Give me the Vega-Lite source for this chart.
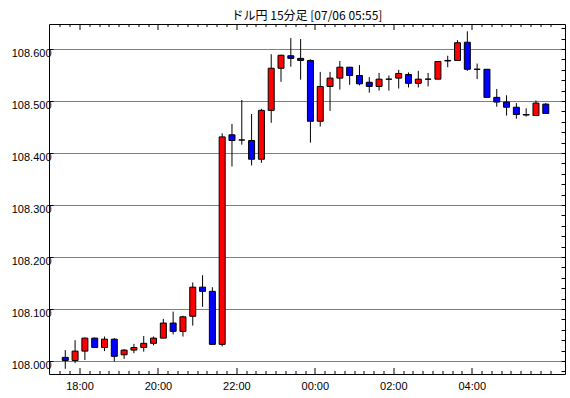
{
  "$schema": "https://vega.github.io/schema/vega-lite/v6.json",
  "width": 516,
  "height": 350,
  "autosize": {"type": "none"},
  "padding": {"left": 49, "top": 24, "right": 5, "bottom": 24},
  "background": "white",
  "title": {"text": "ドル円 15分足 [07/06 05:55]", "font": "Noto Sans CJK JP", "fontSize": 12, "fontWeight": "normal", "color": "black", "anchor": "middle", "baseline": "bottom", "offset": -11},
  "config": {
    "view": {"stroke": "black", "strokeWidth": 1},
    "axis": {"domain": false, "labelFont": "Liberation Sans", "labelFontSize": 11, "labelColor": "black", "tickColor": "black", "tickWidth": 1, "title": null, "grid": false}
  },
  "data": {"values": [
    {"hr": 17.625, "o": 108.007, "h": 108.021, "l": 107.985, "c": 108.001},
    {"hr": 17.875, "o": 108.001, "h": 108.040, "l": 107.996, "c": 108.019},
    {"hr": 18.125, "o": 108.019, "h": 108.045, "l": 108.002, "c": 108.044},
    {"hr": 18.375, "o": 108.044, "h": 108.045, "l": 108.026, "c": 108.026},
    {"hr": 18.625, "o": 108.026, "h": 108.047, "l": 108.019, "c": 108.042},
    {"hr": 18.875, "o": 108.042, "h": 108.044, "l": 107.999, "c": 108.009},
    {"hr": 19.125, "o": 108.012, "h": 108.023, "l": 108.004, "c": 108.021},
    {"hr": 19.375, "o": 108.021, "h": 108.033, "l": 108.015, "c": 108.026},
    {"hr": 19.625, "o": 108.026, "h": 108.048, "l": 108.018, "c": 108.034},
    {"hr": 19.875, "o": 108.034, "h": 108.047, "l": 108.030, "c": 108.044},
    {"hr": 20.125, "o": 108.044, "h": 108.081, "l": 108.044, "c": 108.073},
    {"hr": 20.375, "o": 108.073, "h": 108.095, "l": 108.051, "c": 108.057},
    {"hr": 20.625, "o": 108.057, "h": 108.087, "l": 108.047, "c": 108.085},
    {"hr": 20.875, "o": 108.086, "h": 108.151, "l": 108.068, "c": 108.142},
    {"hr": 21.125, "o": 108.142, "h": 108.165, "l": 108.104, "c": 108.134},
    {"hr": 21.375, "o": 108.134, "h": 108.142, "l": 108.032, "c": 108.032},
    {"hr": 21.625, "o": 108.032, "h": 108.438, "l": 108.028, "c": 108.431},
    {"hr": 21.875, "o": 108.435, "h": 108.456, "l": 108.374, "c": 108.424},
    {"hr": 22.125, "o": 108.425, "h": 108.502, "l": 108.416, "c": 108.425},
    {"hr": 22.375, "o": 108.424, "h": 108.475, "l": 108.376, "c": 108.388},
    {"hr": 22.625, "o": 108.388, "h": 108.485, "l": 108.381, "c": 108.482},
    {"hr": 22.875, "o": 108.482, "h": 108.590, "l": 108.458, "c": 108.563},
    {"hr": 23.125, "o": 108.563, "h": 108.589, "l": 108.537, "c": 108.588},
    {"hr": 23.375, "o": 108.587, "h": 108.621, "l": 108.566, "c": 108.582},
    {"hr": 23.625, "o": 108.582, "h": 108.619, "l": 108.541, "c": 108.578},
    {"hr": 23.875, "o": 108.578, "h": 108.580, "l": 108.420, "c": 108.461},
    {"hr": 24.125, "o": 108.461, "h": 108.556, "l": 108.451, "c": 108.528},
    {"hr": 24.375, "o": 108.528, "h": 108.556, "l": 108.481, "c": 108.544},
    {"hr": 24.625, "o": 108.544, "h": 108.577, "l": 108.522, "c": 108.565},
    {"hr": 24.875, "o": 108.565, "h": 108.565, "l": 108.531, "c": 108.549},
    {"hr": 25.125, "o": 108.549, "h": 108.569, "l": 108.530, "c": 108.533},
    {"hr": 25.375, "o": 108.536, "h": 108.546, "l": 108.516, "c": 108.528},
    {"hr": 25.625, "o": 108.528, "h": 108.554, "l": 108.520, "c": 108.542},
    {"hr": 25.875, "o": 108.542, "h": 108.549, "l": 108.520, "c": 108.542},
    {"hr": 26.125, "o": 108.544, "h": 108.560, "l": 108.524, "c": 108.553},
    {"hr": 26.375, "o": 108.551, "h": 108.555, "l": 108.526, "c": 108.534},
    {"hr": 26.625, "o": 108.534, "h": 108.558, "l": 108.526, "c": 108.542},
    {"hr": 26.875, "o": 108.542, "h": 108.554, "l": 108.528, "c": 108.542},
    {"hr": 27.125, "o": 108.542, "h": 108.576, "l": 108.542, "c": 108.576},
    {"hr": 27.375, "o": 108.578, "h": 108.587, "l": 108.565, "c": 108.577},
    {"hr": 27.625, "o": 108.578, "h": 108.617, "l": 108.578, "c": 108.612},
    {"hr": 27.875, "o": 108.613, "h": 108.634, "l": 108.558, "c": 108.561},
    {"hr": 28.125, "o": 108.561, "h": 108.572, "l": 108.542, "c": 108.561},
    {"hr": 28.375, "o": 108.561, "h": 108.561, "l": 108.507, "c": 108.507},
    {"hr": 28.625, "o": 108.507, "h": 108.523, "l": 108.489, "c": 108.498},
    {"hr": 28.875, "o": 108.498, "h": 108.511, "l": 108.472, "c": 108.488},
    {"hr": 29.125, "o": 108.488, "h": 108.496, "l": 108.466, "c": 108.474},
    {"hr": 29.375, "o": 108.474, "h": 108.486, "l": 108.470, "c": 108.473},
    {"hr": 29.625, "o": 108.472, "h": 108.501, "l": 108.472, "c": 108.496},
    {"hr": 29.875, "o": 108.494, "h": 108.496, "l": 108.476, "c": 108.476}
  ]},
  "layer": [
    {
      "mark": {"type": "rule", "color": "black", "strokeWidth": 1},
      "encoding": {
        "x": {"field": "hr", "type": "quantitative",
          "scale": {"domain": [17.3375, 30.2375], "zero": false, "nice": false},
          "axis": {"orient": "bottom", "translate": 0,
            "values": [17.5, 17.75, 18, 18.25, 18.5, 18.75, 19, 19.25, 19.5, 19.75, 20, 20.25, 20.5, 20.75, 21, 21.25, 21.5, 21.75, 22, 22.25, 22.5, 22.75, 23, 23.25, 23.5, 23.75, 24, 24.25, 24.5, 24.75, 25, 25.25, 25.5, 25.75, 26, 26.25, 26.5, 26.75, 27, 27.25, 27.5, 27.75, 28, 28.25, 28.5, 28.75, 29, 29.25, 29.5, 29.75, 30],
            "labelExpr": "datum.value % 2 == 0 && datum.value < 30 ? ((datum.value % 24) < 10 ? '0' : '') + (datum.value % 24) + ':00' : ''",
            "tickSize": {"condition": {"test": "datum.value % 2 == 0 && datum.value < 30", "value": -6}, "value": -3},
            "labelPadding": 13, "labelFlush": false, "labelOverlap": false}},
        "y": {"field": "l", "type": "quantitative",
          "scale": {"domain": [107.975, 108.648077], "zero": false, "nice": false},
          "axis": {"orient": "left", "values": [108.0, 108.1, 108.2, 108.3, 108.4, 108.5, 108.6], "format": ".3f", "grid": true, "gridDash": [1, 1], "gridColor": "black", "gridOpacity": 1, "tickSize": -4, "labelPadding": 2, "labelBaseline": "top", "labelOffset": -2}},
        "y2": {"field": "h"}
      }
    },
    {
      "mark": {"type": "bar", "size": 6, "stroke": "black", "strokeWidth": 1},
      "encoding": {
        "x": {"field": "hr", "type": "quantitative",
          "axis": {"orient": "top", "translate": 0,
            "values": [17.5, 17.75, 18, 18.25, 18.5, 18.75, 19, 19.25, 19.5, 19.75, 20, 20.25, 20.5, 20.75, 21, 21.25, 21.5, 21.75, 22, 22.25, 22.5, 22.75, 23, 23.25, 23.5, 23.75, 24, 24.25, 24.5, 24.75, 25, 25.25, 25.5, 25.75, 26, 26.25, 26.5, 26.75, 27, 27.25, 27.5, 27.75, 28, 28.25, 28.5, 28.75, 29, 29.25, 29.5, 29.75, 30],
            "labels": false,
            "tickSize": {"condition": {"test": "datum.value % 2 == 0 && datum.value < 30", "value": -6}, "value": -3}}},
        "y": {"field": "o", "type": "quantitative",
          "axis": {"orient": "right", "values": [107.98, 108.0, 108.02, 108.04, 108.06, 108.08, 108.1, 108.12, 108.14, 108.16, 108.18, 108.2, 108.22, 108.24, 108.26, 108.28, 108.3, 108.32, 108.34, 108.36, 108.38, 108.4, 108.42, 108.44, 108.46, 108.48, 108.5, 108.52, 108.54, 108.56, 108.58, 108.6, 108.62, 108.64], "labels": false, "tickSize": -4}},
        "y2": {"field": "c"},
        "color": {"condition": {"test": "datum.c >= datum.o", "value": "#ff0000"}, "value": "#0000ff"}
      }
    }
  ],
  "resolve": {"axis": {"x": "independent", "y": "independent"}}
}
